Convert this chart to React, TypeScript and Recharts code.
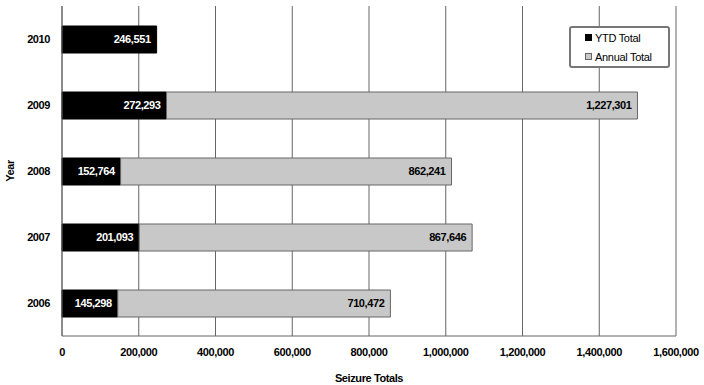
import { BarChart, Bar, XAxis, YAxis, CartesianGrid, LabelList, Label } from 'recharts'

const years = ['2010', '2009', '2008', '2007', '2006']
const ytdTotals = [246551, 272293, 152764, 201093, 145298]
const annualTotals: (number | null)[] = [null, 1227301, 862241, 867646, 710472]
const xTicks = [0, 200000, 400000, 600000, 800000, 1000000, 1200000, 1400000, 1600000]

const FONT = "'Liberation Sans', Arial, sans-serif"
const boldText = { fontSize: 11, fontWeight: 700, fill: '#000', fontFamily: FONT, letterSpacing: -0.4 }

const data = years.map((year, i) => ({ year, ytd: ytdTotals[i], annual: annualTotals[i] }))

const fmt = (v: number) => Number(v).toLocaleString('en-US')

function LegendBox() {
  const item = (color: string, border: string, text: string) => (
    <div style={{ display: 'flex', alignItems: 'center', height: 20 }}>
      <span style={{ width: 5, height: 5, background: color, border: `1px solid ${border}`, marginRight: 3 }} />
      <span>{text}</span>
    </div>
  )
  return (
    <div
      style={{
        position: 'absolute',
        left: 569,
        top: 26,
        width: 101,
        height: 42,
        border: '2px solid #777',
        borderRadius: 3,
        background: '#fff',
        paddingLeft: 14,
        boxSizing: 'border-box',
        fontFamily: FONT,
        fontSize: 11,
        letterSpacing: -0.3,
        color: '#000',
        display: 'flex',
        flexDirection: 'column',
        justifyContent: 'center',
      }}
    >
      {item('#000', '#000', 'YTD Total')}
      {item('#c8c8c8', '#666', 'Annual Total')}
    </div>
  )
}

export default function App() {
  return (
    <div style={{ position: 'absolute', left: 0, top: 0, width: 704, height: 385, background: '#fff' }}>
      <BarChart
        width={704}
        height={385}
        data={data}
        layout="vertical"
        margin={{ top: 6, right: 28, left: 0, bottom: 0 }}
        barSize={27}
      >
        <CartesianGrid horizontal={false} stroke="#666" strokeWidth={1} />
        <XAxis
          type="number"
          domain={[0, 1600000]}
          ticks={xTicks}
          tickFormatter={fmt}
          height={49}
          axisLine={{ stroke: '#666' }}
          tickLine={false}
          tickSize={0}
          tickMargin={12}
          tick={boldText}
        >
          <Label value="Seizure Totals" position="insideBottom" offset={3} style={boldText} />
        </XAxis>
        <YAxis
          type="category"
          dataKey="year"
          width={62}
          axisLine={{ stroke: '#666' }}
          tickLine={false}
          tickSize={0}
          tickMargin={12}
          tick={boldText}
        >
          <Label
            content={(props: any) => {
              const vb = props.viewBox || {}
              const cy = (vb.y ?? 6) + (vb.height ?? 330) / 2
              return (
                <text
                  x={10}
                  y={cy}
                  transform={`rotate(-90 10 ${cy})`}
                  textAnchor="middle"
                  dominantBaseline="central"
                  style={boldText}
                >
                  Year
                </text>
              )
            }}
          />
        </YAxis>
        <Bar dataKey="ytd" stackId="a" fill="#000" stroke="#000" isAnimationActive={false}>
          <LabelList
            dataKey="ytd"
            position="insideRight"
            offset={6}
            formatter={(v: any) => fmt(v)}
            style={{ ...boldText, fill: '#fff' }}
          />
        </Bar>
        <Bar dataKey="annual" stackId="a" fill="#c8c8c8" stroke="#666" isAnimationActive={false}>
          <LabelList
            dataKey="annual"
            position="insideRight"
            offset={6}
            formatter={(v: any) => (v == null ? '' : fmt(v))}
            style={boldText}
          />
        </Bar>
      </BarChart>
      <LegendBox />
    </div>
  )
}
